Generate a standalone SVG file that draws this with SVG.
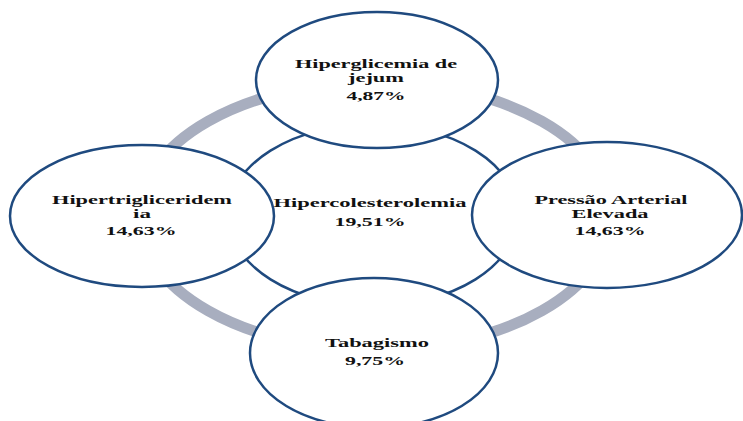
<svg xmlns="http://www.w3.org/2000/svg" width="743" height="421" viewBox="0 0 743 421">
<style>
.node{fill:#ffffff;stroke:#1f4a7f;stroke-width:2.5}
.ring{fill:none;stroke:#a8aebf;stroke-width:11}
text{font-family:"Liberation Serif","Times New Roman",serif;font-weight:bold;font-size:12.5px;fill:#111111;text-anchor:middle}
</style>
<rect width="743" height="421" fill="#ffffff"/>
<g id="connectors">
<ellipse class="ring" cx="375" cy="216" rx="236" ry="134"/>
</g>
<g id="center">
<ellipse class="node" cx="373" cy="215" rx="145" ry="91"/>
<text x="370" y="207" textLength="193" lengthAdjust="spacingAndGlyphs">Hipercolesterolemia</text>
<text x="370" y="226" textLength="71" lengthAdjust="spacingAndGlyphs">19,51%</text>
</g>
<g id="top">
<ellipse class="node" cx="377" cy="80" rx="121" ry="68"/>
<text x="376" y="68" textLength="162" lengthAdjust="spacingAndGlyphs">Hiperglicemia de</text>
<text x="376" y="82" textLength="56" lengthAdjust="spacingAndGlyphs">jejum</text>
<text x="376" y="100" textLength="59" lengthAdjust="spacingAndGlyphs">4,87%</text>
</g>
<g id="left">
<ellipse class="node" cx="142" cy="216" rx="132" ry="71"/>
<text x="142" y="204" textLength="180" lengthAdjust="spacingAndGlyphs">Hipertrigliceridem</text>
<text x="142" y="217.5" textLength="18" lengthAdjust="spacingAndGlyphs">ia</text>
<text x="141" y="235" textLength="71" lengthAdjust="spacingAndGlyphs">14,63%</text>
</g>
<g id="right">
<ellipse class="node" cx="607" cy="215" rx="135" ry="73"/>
<text x="611" y="204" textLength="153" lengthAdjust="spacingAndGlyphs">Pressão Arterial</text>
<text x="610" y="217.5" textLength="77" lengthAdjust="spacingAndGlyphs">Elevada</text>
<text x="610" y="235" textLength="71" lengthAdjust="spacingAndGlyphs">14,63%</text>
</g>
<g id="bottom">
<ellipse class="node" cx="374" cy="353" rx="124" ry="75"/>
<text x="377" y="347" textLength="104" lengthAdjust="spacingAndGlyphs">Tabagismo</text>
<text x="375" y="365" textLength="60" lengthAdjust="spacingAndGlyphs">9,75%</text>
</g>
</svg>
